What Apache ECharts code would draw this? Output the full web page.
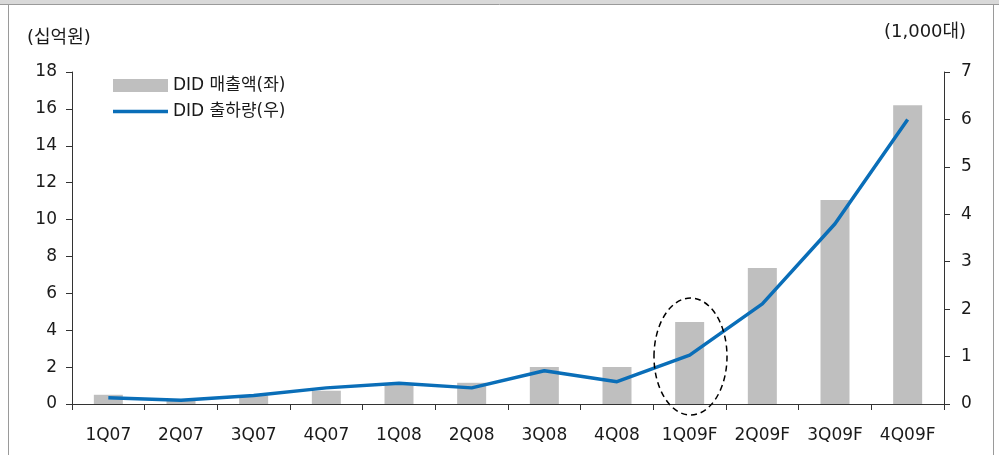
<!DOCTYPE html>
<html><head><meta charset="utf-8">
<script src="https://cdn.jsdelivr.net/npm/echarts@6/dist/echarts.min.js"></script>
<style>html,body{margin:0;padding:0;background:#fff}#c{width:999px;height:455px}</style>
</head><body><div id="c"></div>
<script>
const categories = ['1Q07','2Q07','3Q07','4Q07','1Q08','2Q08','3Q08','4Q08','1Q09F','2Q09F','3Q09F','4Q09F'];
const salesValues = [0.5, 0.2, 0.45, 0.72, 1.1, 1.15, 2.0, 2.0, 4.45, 7.37, 11.06, 16.2];
const shipmentValues = [0.13, 0.08, 0.18, 0.34, 0.44, 0.34, 0.70, 0.47, 1.03, 2.11, 3.8, 6.0];
const leftTicks = {min: 0, max: 18, interval: 2};
const rightTicks = {min: 0, max: 7, interval: 1};
const salesName = 'DID 매출액(좌)';
const shipName = 'DID 출하량(우)';
const leftUnit = '(십억원)';
const rightUnit = '(1,000대)';

const FONT = '"DejaVu Sans", "Noto Sans CJK KR", sans-serif';
const chart = echarts.init(document.getElementById('c'), null, {renderer: 'canvas'});
const axisCol = '#333';
const txt = '#1a1a1a';
chart.setOption({
  animation: false,
  textStyle: {fontFamily: FONT},
  grid: {left: 72, right: 55, top: 72, bottom: 51},
  legend: {
    orient: 'vertical', left: 113, top: 77, padding: 0, itemWidth: 55, itemHeight: 13, itemGap: 9,
    textStyle: {fontFamily: FONT, fontSize: 17, color: txt},
    data: [{name: salesName, icon: 'rect'}, {name: shipName, icon: 'path://M0,0L55,0L55,3.5L0,3.5Z'}]
  },
  xAxis: {
    type: 'category', data: categories, boundaryGap: true,
    axisLine: {lineStyle: {color: axisCol, width: 1}},
    axisTick: {show: true, length: 6, lineStyle: {color: axisCol}},
    axisLabel: {color: txt, fontSize: 17, margin: 23, fontFamily: FONT}
  },
  yAxis: [
    {type: 'value', min: leftTicks.min, max: leftTicks.max, interval: leftTicks.interval,
     splitLine: {show: false},
     axisLine: {show: true, lineStyle: {color: axisCol}},
     axisTick: {show: true, length: 6, lineStyle: {color: axisCol}},
     axisLabel: {color: txt, fontSize: 17, margin: 15, fontFamily: FONT}},
    {type: 'value', min: rightTicks.min, max: rightTicks.max, interval: rightTicks.interval,
     position: 'right', splitLine: {show: false},
     axisLine: {show: true, lineStyle: {color: axisCol}},
     axisTick: {show: true, length: 6, lineStyle: {color: axisCol}},
     axisLabel: {color: txt, fontSize: 17, margin: 17, fontFamily: FONT}}
  ],
  series: [
    {name: salesName, type: 'bar', data: salesValues, yAxisIndex: 0, barWidth: 29,
     itemStyle: {color: '#BFBFBF'}},
    {name: shipName, type: 'line', data: shipmentValues, yAxisIndex: 1,
     symbol: 'none', showSymbol: false,
     lineStyle: {color: '#0A6EB8', width: 3.5}, itemStyle: {color: '#0A6EB8'}}
  ],
  graphic: [
    {type: 'rect', shape: {x: 0, y: 0, width: 999, height: 4}, style: {fill: '#D9D9D9'}, silent: true},
    {type: 'line', shape: {x1: 0, y1: 4.5, x2: 999, y2: 4.5}, style: {stroke: '#9A9A9A', lineWidth: 1}},
    {type: 'line', shape: {x1: 8.5, y1: 4, x2: 8.5, y2: 455}, style: {stroke: '#9A9A9A', lineWidth: 1}},
    {type: 'line', shape: {x1: 993.5, y1: 4, x2: 993.5, y2: 455}, style: {stroke: '#9A9A9A', lineWidth: 1}},
    {type: 'text', left: 27, top: 29, style: {text: leftUnit, font: '18px ' + FONT, fill: txt}},
    {type: 'text', left: 884, top: 23, style: {text: rightUnit, font: '18px ' + FONT, fill: txt}},
    {type: 'ellipse', shape: {cx: 690.5, cy: 356.5, rx: 36.5, ry: 58.5},
     style: {fill: null, stroke: '#000', lineWidth: 1.5, lineDash: [6, 4]}, z: 10}
  ]
});
</script></body></html>
